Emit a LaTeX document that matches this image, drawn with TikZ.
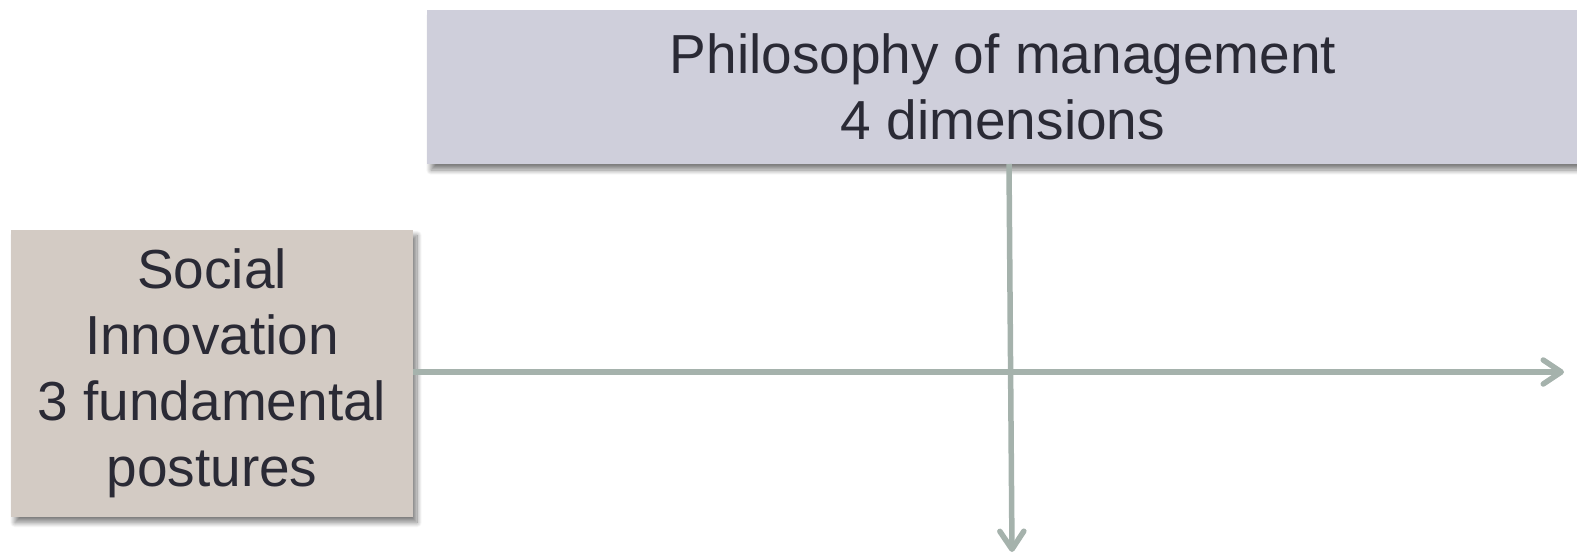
\documentclass[tikz,border=0pt]{standalone}
\usepackage{fontspec}
\setmainfont{Liberation Sans}
\usetikzlibrary{arrows.meta,shadows.blur}
\definecolor{topfill}{HTML}{CFCFDB}
\definecolor{leftfill}{HTML}{D3CBC4}
\definecolor{linec}{HTML}{A5B2AC}
\definecolor{txt}{HTML}{2A2A35}
\tikzset{
  box/.style={fill=#1, text=txt, align=center, inner sep=0pt, font=\fontsize{55}{66}\selectfont,
    blur shadow={shadow xshift=4pt, shadow yshift=-6pt, shadow blur radius=5pt, shadow blur steps=10, shadow blur extra rounding=0pt, shadow opacity=50}},
  conn/.style={draw=linec, line width=5.5pt, -{Straight Barb[length=18pt,width=24pt,round]}}
}
\begin{document}
\begin{tikzpicture}[x=1pt,y=-1pt]
\useasboundingbox (0,0) rectangle (1577,555);
\node[box=topfill, minimum width=1152pt, minimum height=154pt] (top) at (1003,87) {Philosophy of management\\4 dimensions};
\node[box=leftfill, minimum width=402pt, minimum height=287pt] (left) at (212,373) {Social\\Innovation\\3 fundamental\\postures};
\coordinate (hend) at (1564,372);
\coordinate (vend) at (1012,552);
\draw[conn] (left.east |- 0,372) -- (hend);
\draw[conn] (1009,164) -- (vend);
\end{tikzpicture}
\end{document}
